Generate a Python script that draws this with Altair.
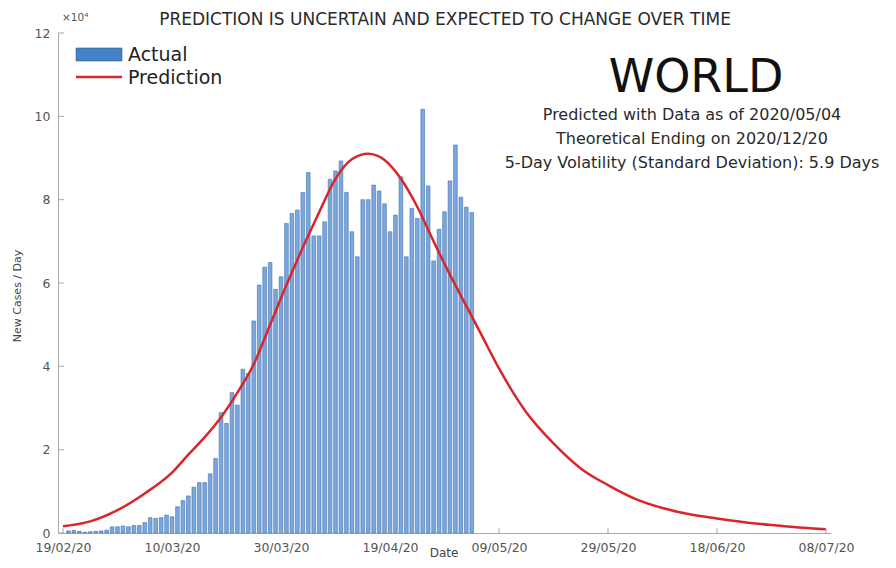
import altair as alt
import pandas as pd

# ---------------- data ----------------
bar_start = "2020-02-20"
actual_1e4 = [0.05, 0.06, 0.04, 0.02, 0.03, 0.04, 0.05, 0.07, 0.15, 0.15,
              0.17, 0.15, 0.18, 0.18, 0.25, 0.37, 0.35, 0.37, 0.43, 0.39,
              0.63, 0.78, 0.89, 1.10, 1.21, 1.21, 1.42, 1.79, 2.89, 2.63,
              3.37, 3.07, 3.93, 3.83, 5.09, 5.95, 6.38, 6.49, 5.85, 6.15,
              7.43, 7.67, 7.75, 8.17, 8.65, 7.13, 7.13, 7.47, 8.49, 8.69,
              8.93, 8.17, 7.23, 6.63, 8.00, 8.00, 8.35, 8.21, 7.90, 7.23,
              7.63, 8.55, 6.63, 7.79, 7.55, 10.17, 8.33, 6.53, 7.29, 7.71,
              8.45, 9.31, 8.06, 7.82, 7.69]

pred_start = "2020-02-19"
pred_day_offsets = [0, 5, 10, 15, 20, 23, 26, 29, 32, 35, 38, 41, 44, 47, 50,
                    53, 56, 59, 62, 65, 68, 71, 74, 77, 80, 85, 90, 95, 100,
                    105, 110, 115, 120, 125, 130, 135, 140]
pred_1e4 = [0.16, 0.28, 0.55, 0.95, 1.45, 1.88, 2.30, 2.78, 3.37, 4.05, 5.00,
            5.95, 6.85, 7.70, 8.50, 8.97, 9.10, 8.95, 8.50, 7.83, 7.00, 6.20,
            5.45, 4.70, 3.95, 2.90, 2.15, 1.55, 1.15, 0.82, 0.60, 0.45, 0.35,
            0.26, 0.19, 0.13, 0.09]

x_tick_dates = ["2020-02-19", "2020-03-10", "2020-03-30", "2020-04-19",
                "2020-05-09", "2020-05-29", "2020-06-18", "2020-07-08"]
y_tick_values = [0, 2, 4, 6, 8, 10, 12]

title_text = "PREDICTION IS UNCERTAIN AND EXPECTED TO CHANGE OVER TIME"
region_text = "WORLD"
info_lines = ["Predicted with Data as of 2020/05/04",
              "Theoretical Ending on 2020/12/20",
              "5-Day Volatility (Standard Deviation): 5.9 Days"]
legend_labels = ["Actual", "Prediction"]

# ---------------- tables ----------------
bar_df = pd.DataFrame({
    "date": pd.date_range(bar_start, periods=len(actual_1e4), freq="D").strftime("%Y-%m-%d"),
    "v": actual_1e4,
})
pred_df = pd.DataFrame({
    "date": (pd.Timestamp(pred_start) + pd.to_timedelta(pred_day_offsets, unit="D")).strftime("%Y-%m-%d"),
    "v": pred_1e4,
})
xt_df = pd.DataFrame({"date": x_tick_dates})
yt_df = pd.DataFrame({"v": y_tick_values})

FONT = "DejaVu Sans"
AXIS_GRAY = "#a9a9a9"
LABEL_GRAY = "#555555"

xscale = alt.Scale(type="utc",
                   domain=[alt.DateTime(year=2020, month=2, date=19, utc=True),
                           alt.DateTime(year=2020, month=7, date=8, utc=True)],
                   nice=False)
xaxis = alt.Axis(values=[alt.DateTime(year=int(d[:4]), month=int(d[5:7]), date=int(d[8:]), utc=True)
                         for d in x_tick_dates],
                 labelExpr="utcFormat(datum.value, '%d/%m/%y')",
                 title=None, ticks=False, grid=False, labelFlush=False,
                 labelOverlap=False, labelPadding=8, labelFont=FONT,
                 labelFontSize=12.5, labelColor=LABEL_GRAY,
                 domainColor=AXIS_GRAY, domainWidth=1)
yscale = alt.Scale(domain=[0, 12], nice=False)
yaxis = alt.Axis(values=y_tick_values, title=None, ticks=False, grid=False,
                 labelPadding=8, labelFont=FONT, labelFontSize=12.5,
                 labelColor=LABEL_GRAY, domainColor=AXIS_GRAY, domainWidth=1)

X = alt.X("date:T", scale=xscale, axis=xaxis)
Y = alt.Y("v:Q", scale=yscale, axis=yaxis)

bars = alt.Chart(bar_df).mark_bar(size=3.7, fill="#7aa7dd", stroke="#4874ad",
                                  strokeWidth=0.6).encode(x=X, y=Y)
line = alt.Chart(pred_df).mark_line(color="#d8262b", strokeWidth=2.5,
                                    interpolate="monotone").encode(x=X, y=Y)

ytick_rules = alt.Chart(yt_df).mark_rule(color=AXIS_GRAY, strokeWidth=1).encode(
    y=Y, x=alt.value(0), x2=alt.value(6))
xtick_rules = alt.Chart(xt_df).mark_rule(color=AXIS_GRAY, strokeWidth=1).encode(
    x=X, y=alt.value(500), y2=alt.value(495))


def label(text, x, y, size, color="#222222", align="center", baseline="middle", angle=0, weight="normal"):
    kw = dict(text=text, font=FONT, fontSize=size, color=color, align=align,
              baseline=baseline, fontWeight=weight)
    if angle:
        kw["angle"] = angle
    return alt.Chart(pd.DataFrame({"t": [text]})).mark_text(**kw).encode(
        x=alt.value(x), y=alt.value(y))


title = label(title_text, 387, -13, 17, color="#2a2a2a")
exponent = label("×10⁴", 4, -15, 10.5, color=LABEL_GRAY, align="left")
world = label(region_text, 638, 45, 46, color="#111111")
info = [label(t, 634, 82 + 24 * i, 16, color="#2a2a2a") for i, t in enumerate(info_lines)]
ytitle = label("New Cases / Day", -40, 263, 11, color="#444444", angle=270)
xtitle = label("Date", 386, 515, 12, color="#444444", baseline="top")

leg_rect = alt.Chart(pd.DataFrame({"t": [legend_labels[0]]})).mark_rect(
    fill="#4581c6", stroke="#2f5f99", strokeWidth=0.6).encode(
    x=alt.value(18), x2=alt.value(64), y=alt.value(15), y2=alt.value(28))
leg_line = alt.Chart(pd.DataFrame({"t": [legend_labels[1]]})).mark_rule(
    color="#d8262b", strokeWidth=2.5).encode(
    x=alt.value(18), x2=alt.value(64), y=alt.value(44))
leg_t1 = label(legend_labels[0], 70, 22, 19, color="#222222", align="left")
leg_t2 = label(legend_labels[1], 70, 45, 19, color="#222222", align="left")

chart = alt.layer(
    bars, line, ytick_rules, xtick_rules, title, exponent, world, *info,
    ytitle, xtitle, leg_rect, leg_line, leg_t1, leg_t2
).properties(
    width=773, height=500,
    autosize=alt.AutoSizeParams(type="none"),
    padding={"left": 50, "top": 25, "right": 57, "bottom": 27},
    background="white",
).configure_view(stroke=None)

chart.save("out.html", embed_options={"renderer": "svg", "actions": False})
